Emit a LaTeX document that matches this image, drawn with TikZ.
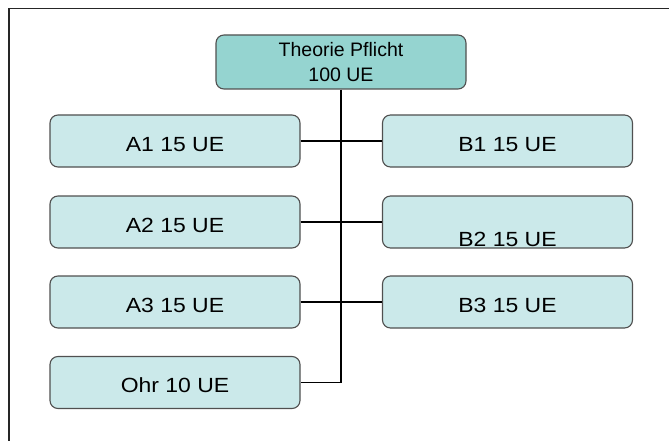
\documentclass[tikz,border=0pt]{standalone}
\usepackage{fontspec}
\setmainfont{Liberation Sans}
\newfontfamily\widefont{Liberation Sans}[FakeStretch=1.12]
\definecolor{topfill}{HTML}{95D4D0}
\definecolor{boxfill}{HTML}{CBE9EA}
\definecolor{boxline}{HTML}{505050}
\begin{document}
\begin{tikzpicture}[x=1pt,y=-1pt,
  boxbase/.style={draw=boxline, line width=1.1pt, rounded corners=8pt, rectangle, inner sep=0pt},
  topbox/.style={boxbase, fill=topfill, minimum width=250pt, minimum height=54pt,
     font=\fontsize{19.5}{23.4}\selectfont, align=center},
  subbox/.style={boxbase, fill=boxfill, minimum width=250pt, minimum height=52pt,
     font=\widefont\fontsize{20.5}{24}\selectfont, text height=20pt, text depth=0pt},
  conn/.style={line width=1.8pt, black}]
\useasboundingbox (0,0) rectangle (669,441);
\draw[line width=1.5pt, black!85] (9,441) -- (9,8.5) -- (669,8.5);
\node[topbox] (top) at (341,62) {Theorie Pflicht\\[1pt]100 UE};
\node[subbox] (a1) at (175,141) {A1 15 UE};
\node[subbox] (a2) at (175,222) {A2 15 UE};
\node[subbox] (a3) at (175,302) {A3 15 UE};
\node[subbox] (ohr) at (175,382.5) {Ohr 10 UE};
\node[subbox] (b1) at (507.5,141) {B1 15 UE};
\node[subbox, label={[font=\widefont\fontsize{20.5}{24}\selectfont, text height=20pt, text depth=0pt, yshift=-14pt]center:B2 15 UE}] (b2) at (507.5,222) {};
\node[subbox] (b3) at (507.5,302) {B3 15 UE};
\draw[conn] (top.south) |- (ohr.east);
\draw[conn] (a1.east) -- (b1.west);
\draw[conn] (a2.east) -- (b2.west);
\draw[conn] (a3.east) -- (b3.west);
\end{tikzpicture}
\end{document}
